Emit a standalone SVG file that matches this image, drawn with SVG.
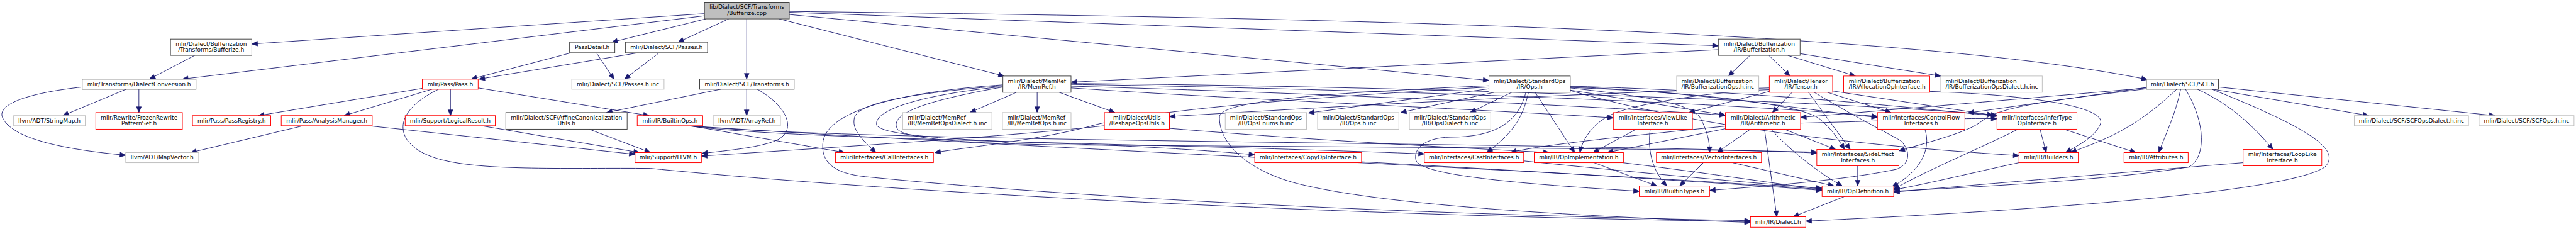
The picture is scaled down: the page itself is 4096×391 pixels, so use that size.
<svg xmlns="http://www.w3.org/2000/svg" width="4096" height="391" viewBox="0 0 4096 391">
<style>
.edges path{fill:none;stroke:#191970;stroke-width:1.3;marker-end:url(#ah)}
.node rect{stroke-width:1.4}
.b{fill:#fff;stroke:#404040}
.m{fill:#bfbfbf;stroke:#404040}
.g{fill:#fff;stroke:#bfbfbf}
.r{fill:#fff;stroke:#ff0000}
text{font-family:"DejaVu Sans","Liberation Sans",sans-serif;font-size:13px;fill:#000;text-anchor:middle}
text.l{text-anchor:start}
</style>
<defs>
<marker id="ah" markerUnits="userSpaceOnUse" markerWidth="13" markerHeight="11" refX="13" refY="5.5" orient="auto" overflow="visible">
<path d="M0,0 L13,5.5 L0,11 z" fill="#191970" stroke="#191970" stroke-width="1"/>
</marker>
</defs>
<rect x="0" y="0" width="4096" height="391" fill="#fff"/>
<g transform="scale(0.6988)">
<g id="edges" class="edges">
<path d="M1603,31 L573,100"/>
<path d="M1603,36 L415,180"/>
<path d="M1606,43 L1392,96"/>
<path d="M1658,43 L1543,96"/>
<path d="M1699,43 L1699,180"/>
<path d="M1773,43 L2285,173"/>
<path d="M1796,33 L3388,183"/>
<path d="M1796,28 L3910,104"/>
<path d="M1796,26 C2800,38 4300,60 4886,181"/>
<path d="M443,126 L340,180"/>
<path d="M287,203 L143,263"/>
<path d="M316,203 L316,256"/>
<path d="M187,198 C60,212 -8,238 6,268 C22,302 90,335 286,353"/>
<path d="M1300,120 L1072,180"/>
<path d="M1453,120 L1090,180"/>
<path d="M1357,120 L1397,180"/>
<path d="M1500,120 L1421,180"/>
<path d="M961,201 L588,263"/>
<path d="M983,203 L783,263"/>
<path d="M1025,203 L1025,263"/>
<path d="M1088,200 L1477,263"/>
<path d="M998,203 C880,260 900,335 1000,362 C1100,390 1300,381 1480,383 C2000,435 3000,490 3983,504"/>
<path d="M690,286 L434,347"/>
<path d="M847,287 L1445,351"/>
<path d="M1095,286 L1455,347"/>
<path d="M1341,294 L1480,347"/>
<path d="M1640,203 L1380,256"/>
<path d="M1699,203 L1699,263"/>
<path d="M1723,203 C1790,240 1820,300 1760,322 C1720,336 1660,342 1597,349"/>
<path d="M1570,286 L1922,347"/>
<path d="M1572,287 C1800,318 2600,325 3241,350"/>
<path d="M1576,287 C2000,325 3500,322 4134,348"/>
<path d="M1580,287 C2200,330 3700,395 4146,431"/>
<path d="M2313,210 L2207,256"/>
<path d="M2360,210 L2360,256"/>
<path d="M2410,210 L2537,256"/>
<path d="M2282,195 C2100,210 1960,230 1945,265 C1935,295 1965,320 1993,347"/>
<path d="M2282,193 C2100,205 1890,240 1873,320 C1865,370 1900,395 1970,402 C2400,445 3100,485 3983,502"/>
<path d="M2282,197 C2100,215 1985,250 1995,285 C2010,310 2200,320 2460,328 C2650,335 2780,345 2855,352"/>
<path d="M2282,198 C2100,230 2020,260 2043,295 C2070,320 2250,328 2460,330 C3200,335 3800,338 4134,346"/>
<path d="M2437,200 C2800,225 3300,245 3671,268"/>
<path d="M2437,192 C3000,200 3900,230 4272,265"/>
<path d="M2437,190 C3200,195 4200,232 4544,262"/>
<path d="M2437,196 C3000,212 3600,240 3926,262"/>
<path d="M3388,202 L2977,257"/>
<path d="M3400,210 L3187,256"/>
<path d="M3440,210 L3345,256"/>
<path d="M3388,195 C3000,212 2780,230 2775,265 C2772,320 2830,385 2950,417 C3100,455 3400,485 3983,506"/>
<path d="M3388,198 C3000,220 2600,250 2470,290 C2350,320 2200,335 2127,347"/>
<path d="M3478,210 C3465,270 3440,305 3383,347"/>
<path d="M3493,210 L3583,347"/>
<path d="M3472,210 C3455,280 3400,312 3300,312 C3240,313 3215,340 3222,365 C3235,395 3400,415 3730,435"/>
<path d="M3573,205 L3926,262"/>
<path d="M3573,200 C3700,215 3850,230 3870,270 C3885,300 3890,320 3890,347"/>
<path d="M3573,197 C3900,212 4100,250 4272,267"/>
<path d="M3573,196 C4000,208 4300,240 4544,264"/>
<path d="M3573,199 C3900,212 4100,240 4140,270 C4170,295 4185,320 4197,340"/>
<path d="M3573,206 C3900,300 4300,335 4594,354"/>
<path d="M4015,294 L4043,493"/>
<path d="M4030,294 C4080,350 4150,400 4192,423"/>
<path d="M4060,294 L4177,340"/>
<path d="M3930,292 L3657,347"/>
<path d="M3983,294 L3907,347"/>
<path d="M3926,287 C3700,310 3500,330 3437,347"/>
<path d="M4097,280 C4300,275 4450,268 4544,270"/>
<path d="M4078,210 L4033,256"/>
<path d="M4115,210 L4210,340"/>
<path d="M4158,210 L4303,256"/>
<path d="M4170,207 L4535,262"/>
<path d="M4128,210 C4220,265 4290,300 4325,320 C4350,345 4345,375 4315,385 C4200,410 4000,425 3890,433"/>
<path d="M4026,204 C3900,208 3720,235 3663,262 C3620,285 3600,320 3595,347"/>
<path d="M4026,208 L3843,256"/>
<path d="M4026,200 C3500,215 3000,245 2661,265"/>
<path d="M3982,126 L3933,173"/>
<path d="M4025,126 L4073,173"/>
<path d="M4068,126 L4222,173"/>
<path d="M4096,122 L4416,173"/>
<path d="M3910,113 L2437,187"/>
<path d="M4391,208 C4600,215 4790,240 4780,280 C4770,310 4730,330 4700,347"/>
<path d="M4380,294 C4395,340 4370,390 4305,425"/>
<path d="M4642,294 L4656,347"/>
<path d="M4696,294 L4860,347"/>
<path d="M4592,294 C4500,340 4400,380 4309,430"/>
<path d="M4227,377 L4227,423"/>
<path d="M4197,447 L4080,493"/>
<path d="M3723,294 L3625,347"/>
<path d="M3755,294 C3748,340 3760,390 3793,423"/>
<path d="M3627,370 L3770,423"/>
<path d="M3692,370 C3900,395 4050,420 4146,430"/>
<path d="M3876,370 L3822,423"/>
<path d="M3942,370 L4173,423"/>
<path d="M3467,366 C3700,390 4000,418 4146,428"/>
<path d="M3098,368 C3500,390 3900,415 4146,433"/>
<path d="M4594,370 C4500,390 4400,415 4309,432"/>
<path d="M5104,370 C4800,395 4500,420 4309,437"/>
<path d="M4953,203 C4850,300 4780,320 4712,347"/>
<path d="M4962,203 C4950,260 4930,300 4912,347"/>
<path d="M5000,203 C5080,240 5130,290 5172,340"/>
<path d="M5035,203 L5390,263"/>
<path d="M5048,198 L5677,263"/>
<path d="M4884,199 L4478,257"/>
<path d="M4884,202 C4700,225 4550,240 4510,275 C4480,300 4400,320 4321,343"/>
<path d="M4884,200 C4600,225 4300,250 4097,267"/>
<path d="M4973,203 C5020,280 5020,360 4980,380 C4800,410 4500,425 4309,435"/>
<path d="M5033,203 C5250,290 5330,340 5290,380 C5200,440 4600,480 4109,503"/>
<path d="M2513,286 C2300,310 1900,335 1596,355"/>
<path d="M2661,292 C3000,320 3300,335 3525,347"/>
</g>
<g id="n0" class="node"><rect class="m" x="1603" y="5" width="193" height="38"/><text x="1699.5" y="20.5">lib/Dialect/SCF/Transforms</text><text x="1699.5" y="34.5">/Bufferize.cpp</text></g>
<g id="n1" class="node"><rect class="b" x="388" y="89" width="185" height="37"/><text x="480.5" y="104.2">mlir/Dialect/Bufferization</text><text x="480.5" y="118">/Transforms/Bufferize.h</text></g>
<g id="n2" class="node"><rect class="b" x="187" y="180" width="259" height="23"/><text x="316.5" y="195.5">mlir/Transforms/DialectConversion.h</text></g>
<g id="n3" class="node"><rect class="g" x="31" y="263" width="163" height="23"/><text x="112.5" y="278.5">llvm/ADT/StringMap.h</text></g>
<g id="n4" class="node"><rect class="r" x="218" y="256" width="197" height="38"/><text x="316.5" y="271.2">mlir/Rewrite/FrozenRewrite</text><text x="316.5" y="285">PatternSet.h</text></g>
<g id="n5" class="node"><rect class="g" x="286" y="347" width="166" height="23"/><text x="369" y="362.5">llvm/ADT/MapVector.h</text></g>
<g id="n6" class="node"><rect class="b" x="1296" y="96" width="103" height="24"/><text x="1347.5" y="112">PassDetail.h</text></g>
<g id="n7" class="node"><rect class="b" x="1423" y="96" width="187" height="24"/><text x="1516.5" y="112">mlir/Dialect/SCF/Passes.h</text></g>
<g id="n8" class="node"><rect class="r" x="961" y="180" width="127" height="23"/><text x="1024.5" y="195.5">mlir/Pass/Pass.h</text></g>
<g id="n9" class="node"><rect class="r" x="438" y="263" width="178" height="23"/><text x="527" y="278.5">mlir/Pass/PassRegistry.h</text></g>
<g id="n10" class="node"><rect class="r" x="640" y="263" width="207" height="23"/><text x="743.5" y="278.5">mlir/Pass/AnalysisManager.h</text></g>
<g id="n11" class="node"><rect class="r" x="922" y="263" width="205" height="23"/><text x="1024.5" y="278.5">mlir/Support/LogicalResult.h</text></g>
<g id="n12" class="node"><rect class="g" x="1301" y="180" width="210" height="23"/><text x="1406" y="195.5">mlir/Dialect/SCF/Passes.h.inc</text></g>
<g id="n13" class="node"><rect class="b" x="1151" y="256" width="276" height="38"/><text x="1289" y="271.2">mlir/Dialect/SCF/AffineCanonicalization</text><text x="1289" y="285">Utils.h</text></g>
<g id="n14" class="node"><rect class="r" x="1450" y="263" width="149" height="23"/><text x="1524.5" y="278.5">mlir/IR/BuiltinOps.h</text></g>
<g id="n15" class="node"><rect class="r" x="1445" y="347" width="151" height="23"/><text x="1520.5" y="362.5">mlir/Support/LLVM.h</text></g>
<g id="n16" class="node"><rect class="b" x="1592" y="180" width="215" height="23"/><text x="1699.5" y="195.5">mlir/Dialect/SCF/Transforms.h</text></g>
<g id="n17" class="node"><rect class="g" x="1623" y="263" width="153" height="23"/><text x="1699.5" y="278.5">llvm/ADT/ArrayRef.h</text></g>
<g id="n18" class="node"><rect class="r" x="1901" y="347" width="223" height="23"/><text x="2012.5" y="362.5">mlir/Interfaces/CallInterfaces.h</text></g>
<g id="n19" class="node"><rect class="b" x="2282" y="173" width="155" height="37"/><text x="2359.5" y="188.2">mlir/Dialect/MemRef</text><text x="2359.5" y="202">/IR/MemRef.h</text></g>
<g id="n20" class="node"><rect class="g" x="2054" y="256" width="203" height="38"/><text class="l" x="2065.3" y="271.2">mlir/Dialect/MemRef</text><text class="l" x="2065.3" y="285">/IR/MemRefOpsDialect.h.inc</text></g>
<g id="n21" class="node"><rect class="g" x="2281" y="256" width="156" height="38"/><text class="l" x="2292" y="271.2">mlir/Dialect/MemRef</text><text class="l" x="2292" y="285">/IR/MemRefOps.h.inc</text></g>
<g id="n22" class="node"><rect class="r" x="2513" y="256" width="148" height="38"/><text x="2587" y="271.2">mlir/Dialect/Utils</text><text x="2587" y="285">/ReshapeOpsUtils.h</text></g>
<g id="n23" class="node"><rect class="g" x="2788" y="256" width="185" height="38"/><text x="2880.5" y="271.2">mlir/Dialect/StandardOps</text><text x="2880.5" y="285">/IR/OpsEnums.h.inc</text></g>
<g id="n24" class="node"><rect class="r" x="2855" y="347" width="243" height="23"/><text x="2976.5" y="362.5">mlir/Interfaces/CopyOpInterface.h</text></g>
<g id="n25" class="node"><rect class="g" x="2998" y="256" width="185" height="38"/><text x="3090.5" y="271.2">mlir/Dialect/StandardOps</text><text x="3090.5" y="285">/IR/Ops.h.inc</text></g>
<g id="n26" class="node"><rect class="g" x="3207" y="256" width="185" height="38"/><text x="3299.5" y="271.2">mlir/Dialect/StandardOps</text><text x="3299.5" y="285">/IR/OpsDialect.h.inc</text></g>
<g id="n27" class="node"><rect class="b" x="3388" y="173" width="185" height="37"/><text x="3480.5" y="188.2">mlir/Dialect/StandardOps</text><text x="3480.5" y="202">/IR/Ops.h</text></g>
<g id="n28" class="node"><rect class="r" x="3241" y="347" width="226" height="23"/><text x="3354" y="362.5">mlir/Interfaces/CastInterfaces.h</text></g>
<g id="n29" class="node"><rect class="r" x="3491" y="347" width="203" height="23"/><text x="3592.5" y="362.5">mlir/IR/OpImplementation.h</text></g>
<g id="n30" class="node"><rect class="r" x="3671" y="256" width="180" height="38"/><text x="3761" y="271.2">mlir/Interfaces/ViewLike</text><text x="3761" y="285">Interface.h</text></g>
<g id="n31" class="node"><rect class="r" x="3769" y="347" width="239" height="23"/><text x="3888.5" y="362.5">mlir/Interfaces/VectorInterfaces.h</text></g>
<g id="n32" class="node"><rect class="r" x="3730" y="423" width="160" height="24"/><text x="3810" y="439">mlir/IR/BuiltinTypes.h</text></g>
<g id="n33" class="node"><rect class="b" x="3910" y="89" width="186" height="37"/><text x="4003" y="104.2">mlir/Dialect/Bufferization</text><text x="4003" y="118">/IR/Bufferization.h</text></g>
<g id="n34" class="node"><rect class="g" x="3815" y="173" width="187" height="37"/><text class="l" x="3826" y="188.2">mlir/Dialect/Bufferization</text><text class="l" x="3826" y="202">/IR/BufferizationOps.h.inc</text></g>
<g id="n35" class="node"><rect class="r" x="3926" y="256" width="171" height="38"/><text x="4011.5" y="271.2">mlir/Dialect/Arithmetic</text><text x="4011.5" y="285">/IR/Arithmetic.h</text></g>
<g id="n36" class="node"><rect class="r" x="4026" y="173" width="144" height="37"/><text x="4098" y="188.2">mlir/Dialect/Tensor</text><text x="4098" y="202">/IR/Tensor.h</text></g>
<g id="n37" class="node"><rect class="r" x="4195" y="173" width="196" height="37"/><text class="l" x="4206.7" y="188.2">mlir/Dialect/Bufferization</text><text class="l" x="4206.7" y="202">/IR/AllocationOpInterface.h</text></g>
<g id="n38" class="node"><rect class="g" x="4416" y="173" width="231" height="37"/><text class="l" x="4426.7" y="188.2">mlir/Dialect/Bufferization</text><text class="l" x="4426.7" y="202">/IR/BufferizationOpsDialect.h.inc</text></g>
<g id="n39" class="node"><rect class="r" x="4134" y="340" width="187" height="37"/><text x="4227.5" y="355.2">mlir/Interfaces/SideEffect</text><text x="4227.5" y="369">Interfaces.h</text></g>
<g id="n40" class="node"><rect class="r" x="4146" y="423" width="163" height="24"/><text x="4227.5" y="439">mlir/IR/OpDefinition.h</text></g>
<g id="n41" class="node"><rect class="r" x="3983" y="493" width="126" height="24"/><text x="4046" y="509">mlir/IR/Dialect.h</text></g>
<g id="n42" class="node"><rect class="r" x="4272" y="256" width="199" height="38"/><text x="4371.5" y="271.2">mlir/Interfaces/ControlFlow</text><text x="4371.5" y="285">Interfaces.h</text></g>
<g id="n43" class="node"><rect class="r" x="4544" y="256" width="182" height="38"/><text x="4635" y="271.2">mlir/Interfaces/InferType</text><text x="4635" y="285">OpInterface.h</text></g>
<g id="n44" class="node"><rect class="r" x="4594" y="347" width="135" height="23"/><text x="4661.5" y="362.5">mlir/IR/Builders.h</text></g>
<g id="n45" class="node"><rect class="r" x="4833" y="347" width="146" height="23"/><text x="4906" y="362.5">mlir/IR/Attributes.h</text></g>
<g id="n46" class="node"><rect class="b" x="4884" y="180" width="164" height="23"/><text x="4966" y="195.5">mlir/Dialect/SCF/SCF.h</text></g>
<g id="n47" class="node"><rect class="r" x="5104" y="340" width="179" height="37"/><text x="5193.5" y="355.2">mlir/Interfaces/LoopLike</text><text x="5193.5" y="369">Interface.h</text></g>
<g id="n48" class="node"><rect class="g" x="5357" y="263" width="260" height="23"/><text x="5487" y="278.5">mlir/Dialect/SCF/SCFOpsDialect.h.inc</text></g>
<g id="n49" class="node"><rect class="g" x="5641" y="263" width="216" height="23"/><text x="5749" y="278.5">mlir/Dialect/SCF/SCFOps.h.inc</text></g>
</g>
</svg>
